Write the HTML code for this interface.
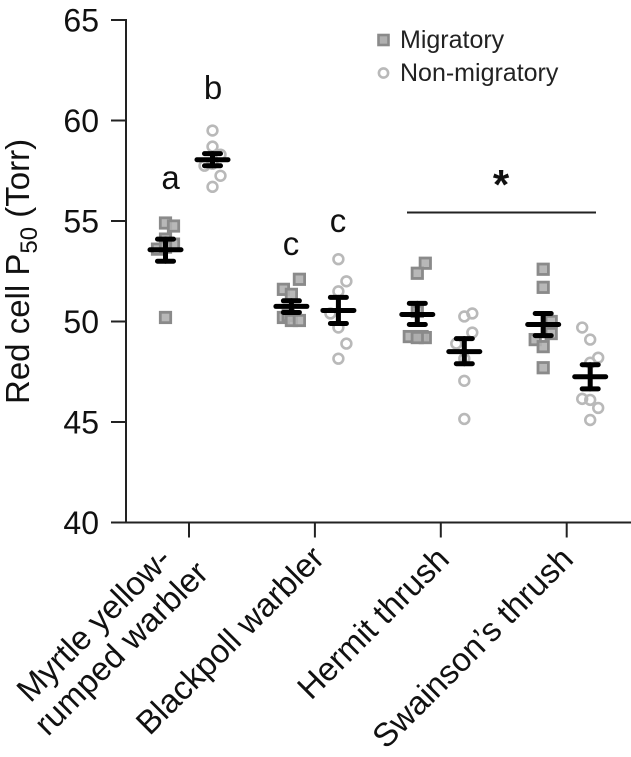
<!DOCTYPE html>
<html>
<head>
<meta charset="utf-8">
<style>
html,body{margin:0;padding:0;background:#fff;}
svg{display:block;font-family:"Liberation Sans",Arial,sans-serif;}
</style>
</head>
<body>
<svg id="chart" width="631" height="757" viewBox="0 0 631 757" xmlns="http://www.w3.org/2000/svg">
  <g id="axes"></g>
  <g id="marks"></g>

  <text transform="translate(29,404) rotate(-90)" font-size="33" fill="#111">Red cell P<tspan font-size="24" dy="8">50</tspan><tspan dy="-8"> (Torr)</tspan></text>

  <text transform="translate(173,561) rotate(-45)" text-anchor="end" font-size="33" fill="#111">Myrtle yellow-</text>
  <text transform="translate(210,575) rotate(-45)" text-anchor="end" font-size="33" fill="#111">rumped warbler</text>
  <text transform="translate(326,560) rotate(-45)" text-anchor="end" font-size="33" fill="#111">Blackpoll warbler</text>
  <text transform="translate(451,561) rotate(-45)" text-anchor="end" font-size="33" fill="#111">Hermit thrush</text>
  <text transform="translate(575,561) rotate(-45)" text-anchor="end" font-size="33" fill="#111">Swainson’s thrush</text>

  <text x="170.5" y="189" text-anchor="middle" font-size="33" fill="#111">a</text>
  <text x="213" y="99" text-anchor="middle" font-size="33" fill="#111">b</text>
  <text x="291" y="255" text-anchor="middle" font-size="33" fill="#111">c</text>
  <text x="338" y="232" text-anchor="middle" font-size="33" fill="#111">c</text>
  <text x="501" y="199" text-anchor="middle" font-size="42" font-weight="bold" fill="#111">*</text>
  <line x1="407" x2="596" y1="212.5" y2="212.5" stroke="#222" stroke-width="2"></line>

  <g>
    <rect x="378.5" y="35" width="10" height="10" fill="#b0b0b0" stroke="#8a8a8a" stroke-width="2.6"></rect>
    <text x="400" y="48" font-size="25" fill="#222">Migratory</text>
    <circle cx="383.5" cy="73" r="4.6" fill="#fff" stroke="#b9b9b9" stroke-width="2.6"></circle>
    <text x="400" y="81" font-size="25" fill="#222">Non-migratory</text>
  </g>
</svg>

<script>
var categories = ["Myrtle yellow-rumped warbler", "Blackpoll warbler", "Hermit thrush", "Swainson's thrush"];
var yTicks = [40, 45, 50, 55, 60, 65];

var migratoryValues = [
  [54.9, 54.75, 54.1, 53.85, 53.6, 53.7, 50.2],
  [52.1, 51.6, 51.35, 50.2, 50.3, 50.05, 50.05],
  [52.9, 52.4, 50.5, 49.25, 49.25, 49.2, 49.2],
  [52.6, 51.7, 50.0, 49.4, 49.1, 48.75, 47.7]
];
var migratoryJitter = [
  [0, 1, 0, 1, -1, 0, 0],
  [1, -1, 0, -1, -0.4, 0, 1],
  [1, 0, 0, -1, 0.6, 1, 0],
  [0, 0, 1, 1, -1, 0, 0]
];
var migratoryMean = [53.57, 50.75, 50.35, 49.85];
var migratoryUpper = [54.1, 51.03, 50.9, 50.4];
var migratoryLower = [53.0, 50.45, 49.85, 49.3];

var nonMigratoryValues = [
  [59.5, 58.7, 58.3, 57.85, 57.75, 57.25, 56.7],
  [53.1, 52.0, 51.5, 50.4, 49.7, 48.9, 48.15],
  [50.4, 50.25, 49.45, 48.9, 48.15, 47.05, 45.15],
  [49.7, 49.1, 48.2, 47.95, 46.15, 46.1, 45.7, 45.1]
];
var nonMigratoryJitter = [
  [0, 0, 1, 0, -1, 1, 0],
  [0, 1, 0, -1, 0, 1, 0],
  [1, 0, 1, -1, 0, 0, 0],
  [-1, 0, 1, 0, -1, 0, 1, 0]
];
var nonMigratoryMean = [58.05, 50.55, 48.5, 47.25];
var nonMigratoryUpper = [58.35, 51.2, 49.15, 47.85];
var nonMigratoryLower = [57.75, 49.9, 47.9, 46.65];

var NS = "http://www.w3.org/2000/svg";
var axesG = document.getElementById("axes");
var marksG = document.getElementById("marks");

function yScale(v) { return 522.5 - (v - 40) * 20.1; }
function xScale(i) { return 189 + i * 125.9; }
var dodge = 23.5;
var jitterStep = 8;

function make(tag, attrs, parent) {
  var el = document.createElementNS(NS, tag);
  for (var k in attrs) { el.setAttribute(k, attrs[k]); }
  parent.appendChild(el);
  return el;
}

var yAxis = make("line", {x1: 126, x2: 126, y1: yScale(65) - 1, y2: yScale(40) + 1, stroke: "#222", "stroke-width": 2}, axesG);


var xAxis = make("line", {x1: 111, x2: 631, y1: yScale(40), y2: yScale(40), stroke: "#222", "stroke-width": 2}, axesG);



yTicks.forEach(function (t) {
  var y = yScale(t);
  var tick = make("line", {x1: 111, x2: 126, y1: y, y2: y, stroke: "#222", "stroke-width": 2}, axesG);
  
  
  var label = make("text", {x: 99, y: y + 11.5, "text-anchor": "end", "font-size": 32, fill: "#111"}, axesG);
  
  
  label.textContent = t;
});

categories.forEach(function (c, i) {
  var tick = make("line", {x1: xScale(i), x2: xScale(i), y1: yScale(40), y2: yScale(40) + 15, stroke: "#222", "stroke-width": 2}, axesG);
  
  
});

function drawPoints(values, jitter, side, isSquare) {
  values.forEach(function (arr, i) {
    arr.forEach(function (v, j) {
      var cx = xScale(i) + side * dodge + jitter[i][j] * jitterStep;
      var cy = yScale(v);
      var p;
      if (isSquare) {
        p = make("rect", {x: cx - 5.2, y: cy - 5.2, width: 10.4, height: 10.4, fill: "#b0b0b0", "fill-opacity": 0.9, stroke: "#8a8a8a", "stroke-width": 2.8}, marksG);
        
      } else {
        p = make("circle", {cx: cx, cy: cy, r: 4.9, fill: "none", stroke: "#b9b9b9", "stroke-width": 2.6}, marksG);
        
      }
      
    });
  });
}

function drawSummary(mean, upper, lower, side) {
  mean.forEach(function (m, i) {
    var cx = xScale(i) + side * dodge;
    var attrs = {stroke: "#000", "stroke-width": 5, "stroke-linecap": "round"};
    var stem = make("line", Object.assign({x1: cx, x2: cx, y1: yScale(upper[i]), y2: yScale(lower[i])}, attrs), marksG);
    
    
    var top = make("line", Object.assign({x1: cx - 8, x2: cx + 8, y1: yScale(upper[i]), y2: yScale(upper[i])}, attrs), marksG);
    
    
    var bottom = make("line", Object.assign({x1: cx - 8, x2: cx + 8, y1: yScale(lower[i]), y2: yScale(lower[i])}, attrs), marksG);
    
    
    var meanLine = make("line", Object.assign({x1: cx - 15.5, x2: cx + 15.5, y1: yScale(m), y2: yScale(m)}, attrs), marksG);
    
    
  });
}

drawPoints(migratoryValues, migratoryJitter, -1, true);
drawPoints(nonMigratoryValues, nonMigratoryJitter, 1, false);
drawSummary(migratoryMean, migratoryUpper, migratoryLower, -1);
drawSummary(nonMigratoryMean, nonMigratoryUpper, nonMigratoryLower, 1);
</script>
</body>
</html>
